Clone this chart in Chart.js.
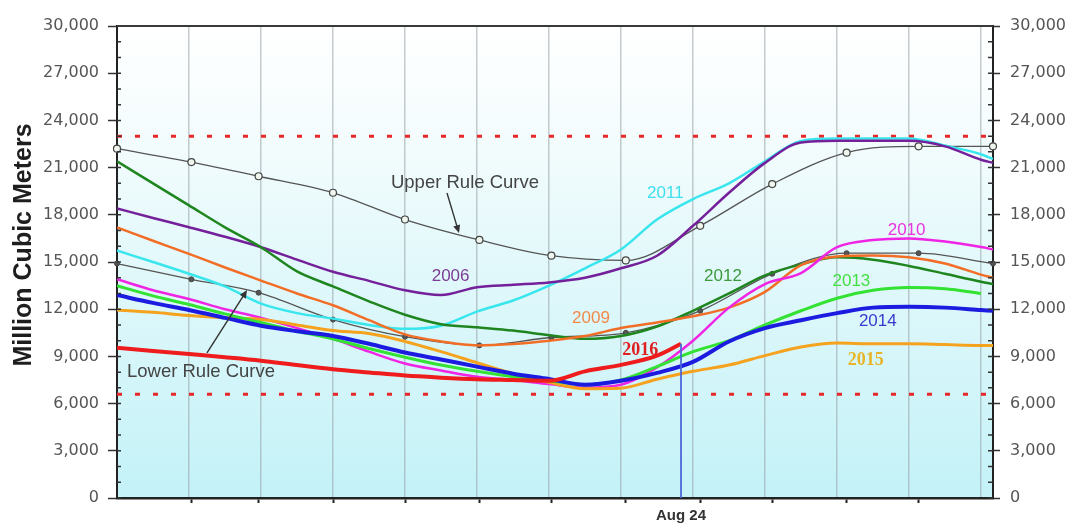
<!DOCTYPE html>
<html>
<head>
<meta charset="utf-8">
<script src="https://cdn.jsdelivr.net/npm/chart.js@4.4.1/dist/chart.umd.min.js"></script>
<style>
  html, body { margin: 0; padding: 0; background: #fff; }
  canvas { display: block; }
</style>
</head>
<body>
<canvas id="c" width="1068" height="523"></canvas>
<script>
// Day of year (0 = Jan 1) at which each storage series is sampled
const days = [0, 15, 30, 45, 60, 75, 90, 105, 120, 135, 150, 165, 180, 195, 210, 225, 240, 255, 270, 285, 300, 315, 330, 345, 360, 365];
const days2016 = [0, 15, 30, 45, 60, 75, 90, 105, 120, 135, 150, 165, 180, 195, 210, 225, 235];
// First day of each month (rule curve nodes)
const ruleDays = [0, 31, 59, 90, 120, 151, 181, 212, 243, 273, 304, 334, 365];
const monthStartDays = [31, 59, 90, 120, 151, 181, 212, 243, 273, 304, 334];
const gridDays = [30, 60, 90, 120, 150, 180, 210, 240, 270, 300, 330, 360];
const todayDay = 235;
const todayLabel = 'Aug 24';

// Storage, million cubic meters
const upperRule = [22200, 21350, 20450, 19400, 17700, 16400, 15400, 15100, 17300, 19950, 21950, 22350, 22350];
const lowerRule = [14900, 13900, 13050, 11340, 10250, 9700, 10200, 10500, 11900, 14250, 15560, 15560, 14900];
const storage2006 = [18400, 17800, 17210, 16600, 15940, 15150, 14380, 13800, 13200, 12900, 13400, 13550, 13700, 14000, 14600, 15400, 17300, 19400, 21300, 22600, 22700, 22700, 22700, 22350, 21500, 21300];
const storage2009 = [17200, 16350, 15520, 14650, 13820, 13000, 12250, 11300, 10400, 9950, 9700, 9790, 10000, 10300, 10800, 11150, 11550, 12100, 13100, 14800, 15350, 15420, 15300, 14900, 14200, 14000];
const storage2010 = [13900, 13200, 12650, 12000, 11450, 10800, 10110, 9300, 8550, 8100, 7700, 7500, 7240, 7020, 7200, 8300, 10000, 12100, 13600, 14300, 15940, 16400, 16500, 16300, 15950, 15800];
const storage2011 = [15730, 15000, 14250, 13450, 12350, 11750, 11400, 11000, 10750, 10950, 11850, 12550, 13500, 14600, 15800, 17700, 19000, 20000, 21400, 22700, 22850, 22850, 22850, 22400, 21850, 21550];
const storage2012 = [21400, 20000, 18600, 17200, 15940, 14400, 13450, 12500, 11650, 11050, 10850, 10640, 10350, 10120, 10300, 10900, 11900, 13000, 14150, 14850, 15300, 15150, 14750, 14250, 13750, 13600];
const storage2013 = [13500, 12850, 12300, 11700, 11150, 10600, 10110, 9500, 8950, 8450, 8050, 7700, 7450, 7200, 7500, 8350, 9300, 10000, 11000, 11900, 12700, 13200, 13380, 13300, 13000, null];
const storage2014 = [12900, 12400, 11950, 11450, 10950, 10600, 10300, 9800, 9250, 8800, 8350, 7900, 7560, 7200, 7450, 7950, 8650, 9950, 10800, 11300, 11750, 12100, 12150, 12100, 11950, 11900];
const storage2015 = [11950, 11800, 11600, 11450, 11350, 11000, 10640, 10450, 9950, 9300, 8600, 7900, 7350, 6950, 6980, 7550, 8050, 8450, 9050, 9600, 9850, 9800, 9800, 9750, 9700, 9700];
const storage2016 = [9550, 9350, 9150, 8950, 8730, 8450, 8190, 7980, 7780, 7650, 7550, 7500, 7450, 8050, 8460, 9050, 9800];

const upperLimit = 23000;
const lowerLimit = 6600;

// Text placed on the plot, anchored in data coordinates (day, storage)
const seriesLabels = [
  { text: '2006', day: 139, value: 14100, color: '#7c3c96' },
  { text: '2009', day: 197.5, value: 11400, color: '#f08a4a' },
  { text: '2010', day: 329, value: 17000, color: '#e833e0' },
  { text: '2011', day: 228.5, value: 19350, color: '#3ee0ee' },
  { text: '2012', day: 252.5, value: 14080, color: '#3c9a3c' },
  { text: '2013', day: 306, value: 13750, color: '#44e044' },
  { text: '2014', day: 317, value: 11200, color: '#3a3ad0' },
  { text: '2015', day: 312, value: 8770, color: '#e8b42a', serif: true },
  { text: '2016', day: 218, value: 9400, color: '#e02020', serif: true }
];
const ruleLabels = [
  { text: 'Upper Rule Curve', day: 145, value: 20020, from: [137.5, 19390], to: [142.5, 16840] },
  { text: 'Lower Rule Curve', day: 35, value: 8040, from: [37.5, 9220], to: [54.2, 13220] }
];

const pts = (xs, ys) => xs.map((d, i) => ({ x: d, y: ys[i] }));
const series = (label, xs, ys, color, width) => ({
  label, data: pts(xs, ys), borderColor: color, borderWidth: width,
  pointRadius: 0, cubicInterpolationMode: 'monotone', fill: false
});

function drawArrow(ctx, x1, y1, x2, y2) {
  const a = Math.atan2(y2 - y1, x2 - x1);
  const len = 8, half = 3.5;
  ctx.beginPath();
  ctx.moveTo(x1, y1);
  ctx.lineTo(x2 - Math.cos(a) * len * 0.8, y2 - Math.sin(a) * len * 0.8);
  ctx.stroke();
  ctx.beginPath();
  ctx.moveTo(x2, y2);
  ctx.lineTo(x2 - Math.cos(a) * len + Math.sin(a) * half, y2 - Math.sin(a) * len - Math.cos(a) * half);
  ctx.lineTo(x2 - Math.cos(a) * len - Math.sin(a) * half, y2 - Math.sin(a) * len + Math.cos(a) * half);
  ctx.closePath();
  ctx.fill();
}

const decor = {
  id: 'decor',
  beforeDraw(chart) {
    const { ctx, chartArea: a } = chart;
    ctx.save();
    ctx.fillStyle = '#ffffff';
    ctx.fillRect(0, 0, chart.width, chart.height);
    const g = ctx.createLinearGradient(0, a.top, 0, a.bottom);
    g.addColorStop(0, '#ffffff');
    g.addColorStop(0.25, '#f3fcfd');
    g.addColorStop(0.6, '#dcf7fa');
    g.addColorStop(1, '#c3f2f8');
    ctx.fillStyle = g;
    ctx.fillRect(a.left, a.top, a.right - a.left, a.bottom - a.top);
    ctx.restore();
  },
  afterDraw(chart) {
    const { ctx, chartArea: a } = chart;
    const sx = chart.scales.x, sy = chart.scales.y;
    ctx.save();

    // inner tick marks every 1,000 on both value axes
    ctx.strokeStyle = '#333';
    ctx.lineWidth = 1.5;
    for (let v = 0; v <= 30000; v += 1000) {
      const py = sy.getPixelForValue(v);
      ctx.beginPath();
      ctx.moveTo(a.left, py); ctx.lineTo(a.left + 4, py);
      ctx.moveTo(a.right - 5, py); ctx.lineTo(a.right, py);
      ctx.stroke();
    }
    // top frame line
    ctx.strokeStyle = '#3a3a3a';
    ctx.lineWidth = 2;
    ctx.beginPath();
    ctx.moveTo(a.left, a.top); ctx.lineTo(a.right, a.top);
    ctx.stroke();

    // series labels
    ctx.textAlign = 'center';
    ctx.textBaseline = 'middle';
    for (const l of seriesLabels) {
      ctx.font = l.serif ? 'bold 18px "Liberation Serif"' : '17px "Liberation Sans"';
      ctx.fillStyle = l.color;
      ctx.fillText(l.text, sx.getPixelForValue(l.day), sy.getPixelForValue(l.value));
    }

    // rule curve labels with arrows
    ctx.font = '18.5px "Liberation Sans"';
    ctx.fillStyle = '#444';
    ctx.strokeStyle = '#333';
    ctx.lineWidth = 1.4;
    for (const l of ruleLabels) {
      ctx.fillStyle = '#444';
      ctx.fillText(l.text, sx.getPixelForValue(l.day), sy.getPixelForValue(l.value));
      ctx.fillStyle = '#333';
      drawArrow(ctx,
        sx.getPixelForValue(l.from[0]), sy.getPixelForValue(l.from[1]),
        sx.getPixelForValue(l.to[0]), sy.getPixelForValue(l.to[1]));
    }

    // value axis title
    ctx.translate(24, 245);
    ctx.rotate(-Math.PI / 2);
    ctx.font = 'bold 25px "Liberation Sans"';
    ctx.fillStyle = '#1e1e1e';
    ctx.fillText('Million Cubic Meters', 0, 0);
    ctx.restore();
  }
};

const valueTicks = {
  stepSize: 3000,
  color: '#555',
  font: { family: 'DejaVu Sans', size: 16 },
  callback: v => v.toLocaleString('en-US')
};

new Chart(document.getElementById('c'), {
  type: 'line',
  data: {
    datasets: [
      { label: todayLabel, data: [{ x: todayDay, y: storage2016[storage2016.length - 1] }, { x: todayDay, y: 0 }],
        borderColor: '#4a64d8', borderWidth: 1, pointRadius: 0 },
      series('2016', days2016, storage2016, '#ee1c1c', 4),
      series('2014', days, storage2014, '#1c1ce0', 4),
      series('2013', days, storage2013, '#33e233', 3),
      series('2015', days, storage2015, '#f5a21e', 3),
      series('2010', days, storage2010, '#f024e4', 2.5),
      series('2009', days, storage2009, '#f26e26', 2.5),
      series('2012', days, storage2012, '#1f861f', 2.5),
      series('2006', days, storage2006, '#74209a', 2.5),
      series('2011', days, storage2011, '#3ae6ee', 2.5),
      { label: 'Upper Rule Curve', data: pts(ruleDays, upperRule), borderColor: '#555', borderWidth: 1.3,
        cubicInterpolationMode: 'monotone', pointRadius: 3.5, pointBackgroundColor: '#eef6ee',
        pointBorderColor: '#444', pointBorderWidth: 1.2, clip: false },
      { label: 'Lower Rule Curve', data: pts(ruleDays, lowerRule), borderColor: '#555', borderWidth: 1.3,
        cubicInterpolationMode: 'monotone', pointRadius: 2.5, pointBackgroundColor: '#555',
        pointBorderColor: '#444', pointBorderWidth: 1, clip: false },
      { label: 'Upper limit', data: [{ x: 0, y: upperLimit }, { x: 365, y: upperLimit }],
        borderColor: '#e82828', borderWidth: 3, borderDash: [5, 13], pointRadius: 0 },
      { label: 'Lower limit', data: [{ x: 0, y: lowerLimit }, { x: 365, y: lowerLimit }],
        borderColor: '#e82828', borderWidth: 3, borderDash: [5, 13], pointRadius: 0 }
    ]
  },
  options: {
    responsive: false,
    animation: false,
    events: [],
    layout: { padding: { top: 26, left: 0, right: 0, bottom: 0 } },
    plugins: { legend: { display: false }, tooltip: { enabled: false } },
    scales: {
      x: {
        type: 'linear', position: 'bottom', min: 0, max: 365,
        afterBuildTicks: s => { s.ticks = monthStartDays.concat([todayDay]).map(v => ({ value: v })); },
        afterFit: s => { s.height = 25; },
        ticks: {
          autoSkip: false, maxRotation: 0, padding: 4, color: '#333',
          font: { family: 'Liberation Sans', size: 15, weight: 'bold' },
          callback: v => (v === todayDay ? todayLabel : '')
        },
        grid: {
          drawOnChartArea: false, tickLength: 5, tickWidth: 2,
          tickColor: c => (c.tick && c.tick.value === todayDay ? 'rgba(0,0,0,0)' : '#222')
        },
        border: { color: '#222', width: 2.5 }
      },
      xg: {
        type: 'linear', position: 'bottom', min: 0, max: 365,
        afterBuildTicks: s => { s.ticks = gridDays.map(v => ({ value: v })); },
        afterFit: s => { s.height = 0; },
        ticks: { display: false },
        grid: { drawTicks: false, color: 'rgba(150,160,165,0.55)', lineWidth: 1.5 },
        border: { display: false }
      },
      y: {
        position: 'left', min: 0, max: 30000,
        afterFit: s => { s.width = 117; },
        ticks: Object.assign({ padding: 9 }, valueTicks),
        grid: { drawOnChartArea: false, tickLength: 9, tickWidth: 1.5, tickColor: '#333' },
        border: { color: '#222', width: 2 }
      },
      y2: {
        position: 'right', min: 0, max: 30000,
        afterFit: s => { s.width = 75; },
        ticks: Object.assign({ padding: 10 }, valueTicks),
        grid: { drawOnChartArea: false, tickLength: 7, tickWidth: 1.5, tickColor: '#333' },
        border: { color: '#222', width: 2 }
      }
    }
  },
  plugins: [decor]
});
</script>
</body>
</html>
